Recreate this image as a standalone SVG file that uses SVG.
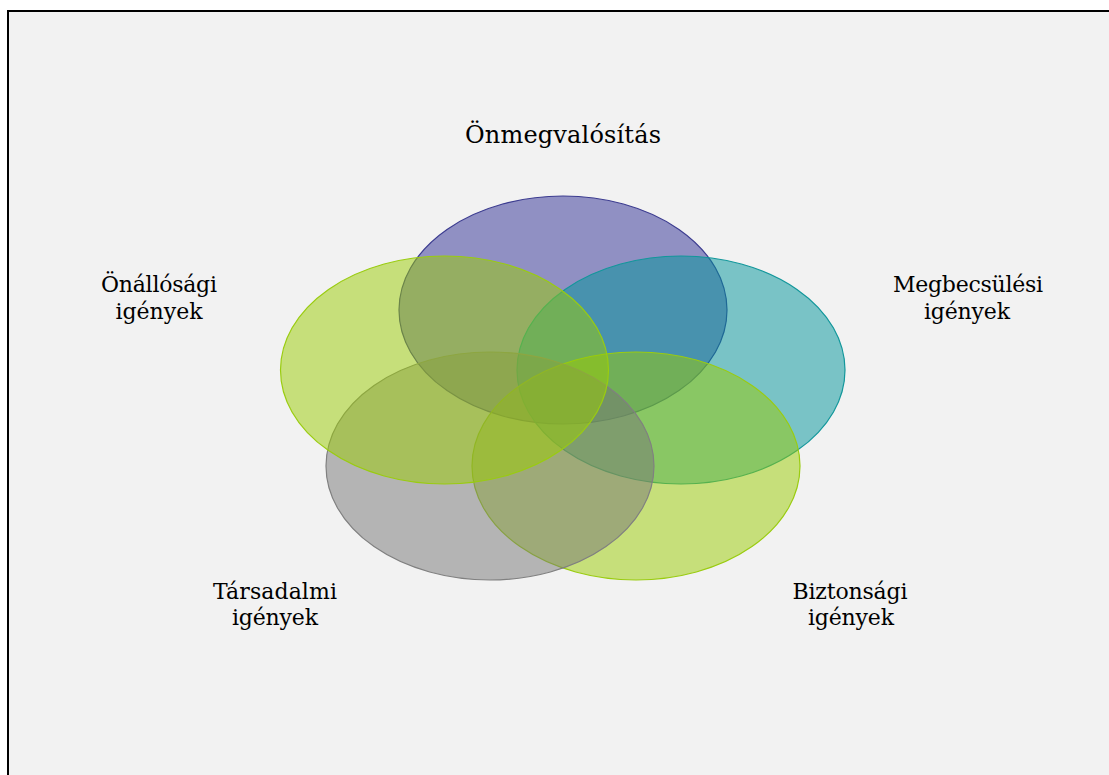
<svg xmlns="http://www.w3.org/2000/svg" width="1109" height="775" viewBox="0 0 1109 775">
  <style>
    .bg { fill: #f2f2f2; stroke: #000000; stroke-width: 2; }
    .set { fill-opacity: 0.5; stroke-width: 1.2; }
    .lbl { font-family: "DejaVu Serif", "Liberation Serif", serif; font-size: 22px; fill: #000000; text-anchor: middle; }
    .title { font-size: 24px; }
  </style>
  <rect class="bg" x="8" y="11" width="1110" height="780"/>

  <g id="sets">
    <!-- drawn clockwise from the top so each later set sits over the previous ones -->
    <g id="node-top">
      <ellipse class="set" cx="563" cy="310" rx="164" ry="114" fill="#2e2e94" stroke="#3c3c90"/>
    </g>
    <g id="node-right">
      <ellipse class="set" cx="681" cy="370" rx="164" ry="114" fill="#00949a" stroke="#12979b"/>
    </g>
    <g id="node-bottom-right">
      <ellipse class="set" cx="636" cy="466" rx="164" ry="114" fill="#9acc02" stroke="#9acc10"/>
    </g>
    <g id="node-bottom-left">
      <ellipse class="set" cx="490" cy="466" rx="164" ry="114" fill="#767676" stroke="#808080"/>
    </g>
    <g id="node-left">
      <ellipse class="set" cx="444.5" cy="370" rx="164" ry="114" fill="#9acc02" stroke="#9acc10"/>
    </g>
  </g>

  <g id="labels">
    <text class="lbl title" x="563" y="143" textLength="196">Önmegvalósítás</text>
    <text class="lbl" x="159" y="292" textLength="116">Önállósági</text>
    <text class="lbl" x="159" y="319" textLength="87">igények</text>
    <text class="lbl" x="968" y="292" textLength="150">Megbecsülési</text>
    <text class="lbl" x="967" y="319" textLength="86">igények</text>
    <text class="lbl" x="275" y="599" textLength="124">Társadalmi</text>
    <text class="lbl" x="275" y="625" textLength="86">igények</text>
    <text class="lbl" x="850" y="599" textLength="115">Biztonsági</text>
    <text class="lbl" x="851" y="625" textLength="86">igények</text>
  </g>
</svg>
